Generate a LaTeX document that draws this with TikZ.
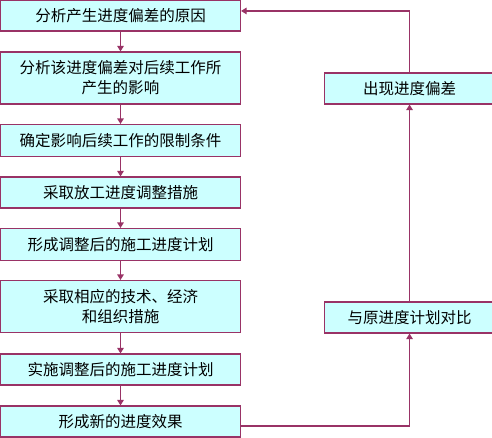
\documentclass[tikz,border=0pt]{standalone}
\usepackage{fontspec}
\newfontfamily\cjk{Noto Sans CJK SC}
\usepackage{xcolor}
\usetikzlibrary{arrows.meta, positioning, calc}
\definecolor{edgecol}{HTML}{993366}
\definecolor{boxfill}{HTML}{CCFFFF}

\begin{document}
\begin{tikzpicture}[x=1pt, y=-1pt,
    stepbox/.style={draw=edgecol, fill=boxfill, line width=1.1pt, align=center, inner sep=0pt,
        minimum width=240pt, font=\cjk\fontsize{15.5}{20}\selectfont},
    sidebox/.style={stepbox, minimum width=170pt, minimum height=31pt, anchor=west},
    flow/.style={draw=edgecol, line width=1.1pt, -{Triangle[width=6.5pt,length=5.5pt]}}]
    \useasboundingbox (0,0) rectangle (492,437);
    \clip (0,0) rectangle (492,437);

    % Left column
    \node[stepbox, minimum height=30.5pt] (anal) at (120.5,15.75) {分析产生进度偏差的原因};
    \node[stepbox, minimum height=52pt] (impact) at (120.5,78) {分析该进度偏差对后续工作所\\产生的影响};
    \node[stepbox, minimum height=32pt] (limit) at (120.5,140.5) {确定影响后续工作的限制条件};
    \node[stepbox, minimum height=31pt] (measure) at (120.5,192.5) {采取放工进度调整措施};
    \node[stepbox, minimum height=32pt] (newplan) at (120.5,244.5) {形成调整后的施工进度计划};
    \node[stepbox, minimum height=52pt] (tech) at (120.5,306.5) {采取相应的技术、经济\\和组织措施};
    \node[stepbox, minimum height=31pt] (apply) at (120.5,369.5) {实施调整后的施工进度计划};
    \node[stepbox, minimum height=31pt] (effect) at (120.5,421.5) {形成新的进度效果};

    % Right column
    \node[sidebox] (dev) at (324,88.5) {出现进度偏差};
    \node[sidebox] (cmp) at (324,317.5) {与原进度计划对比};

    % Connectors
    \foreach \a/\b in {anal/impact, impact/limit, limit/measure, measure/newplan,
        newplan/tech, tech/apply, apply/effect, cmp/dev}
        \draw[flow] (\a) -- (\b);
    \draw[flow] ([yshift=-4.5pt]effect.east) -| (cmp.south);
    \draw[flow] (dev.north) |- ([yshift=4.8pt]anal.east);
\end{tikzpicture}
\end{document}
